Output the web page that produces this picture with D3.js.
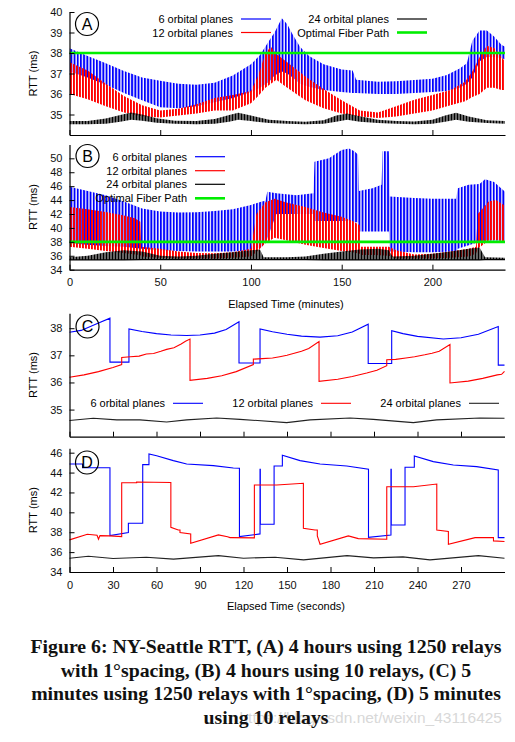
<!DOCTYPE html>
<html><head><meta charset="utf-8">
<script src="https://cdn.jsdelivr.net/npm/d3@7"></script>
<style>body{margin:0;background:#fff}svg{display:block}</style>
</head><body>
<script>
// ---------- DATA ----------
// Panel A (4 h, 1250 relays) : envelopes of oscillating RTT (ms)
const a6T  = [0,10,20,30,40,50,60,70,80,90,100,105,110,113,117,120,123,127,132,140,150,156,158,170,180,190,200,208,215,219,222,226,230,234,238,240];
const a6Hi = [38.23,37.85,37.5,37.12,36.8,36.65,36.5,36.45,36.55,36.9,37.45,37.9,38.6,39.0,39.7,39.4,38.9,38.3,37.85,37.45,37.2,37.15,36.7,36.6,36.62,36.68,36.75,36.93,37.25,37.5,38.6,39.1,39.1,38.8,38.4,38.3];
const a6Lo = [37.1,36.8,36.45,36.05,35.7,35.35,35.3,35.4,35.6,35.8,36.1,36.3,36.6,36.9,37.1,37.0,36.8,36.5,36.35,36.2,36.1,36.05,36.05,36.0,36.0,36.05,36.1,36.15,36.3,36.5,36.8,37.6,37.8,37.8,37.75,37.7];
const a12T  = [0,10,20,30,40,50,60,70,80,90,100,104,108,111,114,120,130,140,150,160,170,180,190,200,210,218,222,226,230,234,238,240];
const a12Hi = [37.55,37.15,36.5,35.9,35.45,35.2,35.28,35.5,35.8,35.95,36.15,36.9,38.0,38.3,37.95,37.55,36.85,36.25,35.7,35.2,35.1,35.4,35.72,35.95,36.2,36.6,37.1,37.8,38.35,38.25,37.8,37.6];
const a12Lo = [36.0,35.75,35.4,35.1,34.92,34.85,34.95,35.05,35.2,35.2,35.55,35.9,36.3,36.5,36.7,36.3,35.7,35.3,35.05,34.9,34.83,34.9,35.05,35.2,35.45,35.65,35.85,36.0,36.3,36.3,36.2,36.2];
const a24T  = [0,10,20,28,34,40,48,58,70,80,88,93,100,110,120,130,140,147,153,160,170,180,190,200,207,213,220,230,240];
const a24Hi = [34.68,34.68,34.8,34.98,35.1,35.0,34.82,34.7,34.68,34.78,34.98,35.08,34.95,34.75,34.68,34.65,34.72,34.95,35.05,34.92,34.75,34.68,34.66,34.75,34.95,35.08,34.9,34.72,34.68];
const a24Lo = [34.52,34.52,34.55,34.65,34.75,34.7,34.6,34.55,34.52,34.55,34.65,34.75,34.68,34.58,34.55,34.52,34.55,34.65,34.75,34.65,34.58,34.55,34.52,34.55,34.65,34.75,34.65,34.58,34.55];
const fiberRTT = 38;

// Panel B (4 h, 10 relays)
const b6T  = [0,10,20,30,40,50,60,70,80,90,100,106,108,109,114,125,134.5,135,143,150,154,157,159,159.5,167,172,172.5,176,176.5,190,200,213,214,220,226,229,234,240];
const b6Hi = [45.9,45.3,44.7,43.8,42.8,42.35,42.2,42.25,42.45,42.7,43.3,43.8,43.9,45.2,45.0,44.7,45.0,49.5,50.0,51.2,51.4,51.0,50.5,45.3,45.7,46.2,51.0,51.0,44.5,44.3,44.2,44.2,45.7,46.2,46.3,47.0,46.6,45.2];
const b6Lo = [37.8,37.6,37.4,37.3,37.0,36.8,36.7,36.6,36.6,36.6,36.8,37.3,38.0,38.5,42.0,42.0,42.0,41.0,41.0,41.0,41.0,40.8,40.8,39.5,39.5,39.5,39.5,39.5,36.6,36.5,36.5,36.6,37.0,37.5,38.0,38.2,38.2,38.2];
const b12T  = [0,10,20,30,36,39,39.5,50,60,70,80,90,100,103,108,113,120,130,140,150,156,160,160.5,168,176,180,190,200,210,220,224,225,231,235,240];
const b12Hi = [43.0,42.7,42.3,41.8,41.4,40.9,37.3,37.0,36.6,36.4,36.35,36.5,37.0,42.0,43.7,44.2,43.6,43.0,42.2,41.6,41.0,40.4,37.3,37.3,37.3,36.8,36.2,36.3,36.6,37.0,37.3,42.0,43.8,44.0,43.2];
const b12Lo = [37.3,37.0,36.7,36.4,36.2,36.1,35.9,35.7,35.6,35.6,35.6,35.7,35.9,36.5,37.8,38.6,38.2,37.6,37.1,36.7,36.5,36.3,36.1,36.1,36.0,35.6,35.6,35.6,35.7,35.9,36.3,37.0,38.2,38.3,38.0];
const b24T  = [0,10,20,30,40,50,60,70,80,90,100,105,107,120,130,140,150,160,170,176,178,190,200,210,220,226,229,240];
const b24Hi = [35.8,36.0,36.5,36.8,36.6,36.0,35.9,36.0,36.3,36.5,36.8,36.9,35.8,35.8,35.9,36.3,36.6,36.9,37.0,36.8,35.9,36.0,36.3,36.6,37.0,37.2,35.8,35.7];
const b24Lo = [35.4,35.4,35.4,35.4,35.45,35.45,35.45,35.45,35.45,35.45,35.45,35.45,35.45,35.45,35.45,35.4,35.4,35.4,35.4,35.4,35.4,35.4,35.4,35.4,35.4,35.4,35.45,35.45];

// Panel C (5 min, 1250 relays)
const c6T = [0,8,18,27.9,27.9,41,41,50,60,70,80.8,90,100,108,116.9,116.9,131.4,131.4,140,150,160,172.8,185,195,206,206,222.2,222.2,230,240,257.8,270,282,295.7,295.7,300];
const c6V = [37.85,37.92,38.15,38.37,36.75,36.75,37.97,37.88,37.8,37.75,37.73,37.75,37.82,37.95,38.24,36.72,36.72,37.97,37.87,37.78,37.71,37.67,37.72,37.86,38.15,36.7,36.7,37.91,37.8,37.7,37.6,37.65,37.78,38.06,36.64,36.64];
const c12T = [0,10,20,30,36,36,42,48,53,58,63,67,72,77,80,83.1,83.1,95,105,115,126.8,126.8,133,140,145,150,155,160,165,172.1,172.1,185,195,205,212,218.8,218.8,225,232,238,245,250,255,262.4,262.4,275,285,295,298,300];
const c12V = [36.19,36.28,36.4,36.55,36.66,36.92,36.95,36.97,37.05,37.07,37.15,37.22,37.28,37.42,37.52,37.6,36.08,36.15,36.25,36.4,36.66,36.86,36.88,36.9,36.95,37.0,37.08,37.15,37.25,37.51,36.04,36.12,36.22,36.35,36.45,36.62,36.84,36.85,36.9,36.95,37.02,37.08,37.15,37.4,35.98,36.05,36.15,36.28,36.3,36.41];
const c24T = [0,16.4,32.6,48.6,67,80.8,101.5,117.6,149.8,165.9,193.5,209.5,237.1,253.2,283,300];
const c24V = [34.6,34.68,34.62,34.62,34.54,34.62,34.69,34.64,34.52,34.62,34.69,34.64,34.52,34.62,34.69,34.68];

// Panel D (5 min, 10 relays)
const d6T = [0,9,9,27.9,27.9,40.6,40.6,50.5,50.5,54.8,54.8,60.1,71.6,80.8,99.2,113,117.2,117.2,131.4,131.4,131.6,131.6,141.1,141.1,146.8,146.8,159,172.8,191.2,206.2,206.2,221.7,221.7,221.9,221.9,231.4,231.4,237.8,237.8,250.9,264.7,280.8,295.7,295.7,300];
const d6V = [44.86,44.86,44.5,44.49,37.66,37.96,38.9,38.9,44.8,44.8,45.87,45.7,45.2,44.86,44.7,44.46,44.43,37.56,37.83,44.33,44.33,38.8,38.8,44.66,44.66,45.74,45.2,44.86,44.66,44.33,37.49,37.72,44.33,44.33,38.73,38.73,44.53,44.53,45.67,45.1,44.76,44.6,44.26,37.46,37.46];
const d12T = [0,12.3,19,20,21,27.9,36,36,46.3,46.3,69.9,69.9,75,76.2,76.2,83.6,83.6,102.7,109,110.7,111.5,127.5,127.5,142.9,161.3,161.3,169.3,170.9,170.9,172.8,192.3,199.2,218.8,218.8,237.2,253.3,253.3,261.3,261.3,279.7,292.4,292.4,300];
const d12V = [37.23,37.8,37.7,37.3,37.66,37.63,37.56,42.98,42.98,43.05,43.0,38.5,38.23,38.23,37.96,37.83,36.89,37.73,37.55,37.46,37.46,37.43,42.75,42.75,42.92,38.4,38.23,38.23,37.63,36.79,37.63,37.36,37.3,42.58,42.58,42.85,38.23,38.07,36.79,37.46,37.46,37.13,37.06];
const d24T = [0,13,30,53,71.7,102.7,120,141.8,161.4,191.4,209.7,230,248.6,282,300];
const d24V = [35.39,35.59,35.36,35.49,35.29,35.65,35.39,35.49,35.22,35.65,35.42,35.52,35.22,35.65,35.39];

const legendLabels = ["6 orbital planes","12 orbital planes","24 orbital planes","Optimal Fiber Path"];
const colors = {p6:"#0000ff", p12:"#ff0000", p24:"#000000", fiber:"#00ee00"};
const ticksA = [35,36,37,38,39,40], ticksB = [34,36,38,40,42,44,46,48,50];
const ticksC = [35,36,37,38], ticksD = [34,36,38,40,42,44,46];
const ticksMin = [0,50,100,150,200], ticksSec = [0,30,60,90,120,150,180,210,240,270];
const captionLines = [
 "Figure 6: NY-Seattle RTT, (A) 4 hours using 1250 relays",
 "with 1°spacing, (B) 4 hours using 10 relays, (C) 5",
 "minutes using 1250 relays with 1°spacing, (D) 5 minutes",
 "using 10 relays"];

// ---------- DRAW ----------
const svg = d3.select("body").append("svg").attr("width",515).attr("height",742);
const FONT = "'Liberation Sans', Arial, Helvetica, sans-serif";
const defs = svg.append("defs");
function stripe(id, color, w, period, off){
  const p = defs.append("pattern").attr("id",id).attr("patternUnits","userSpaceOnUse")
    .attr("width",period).attr("height",8).attr("x",off);
  p.append("rect").attr("width",w).attr("height",8).attr("fill",color);
}
stripe("s6", colors.p6, 1.9, 3.2, 0);
stripe("s12", colors.p12, 1.9, 3.0, 1);
stripe("s24", colors.p24, 2.2, 3.0, 0.5);

const X0 = 69.5;
const xMin = d3.scaleLinear().domain([0,240]).range([X0,505]);
const xSec = d3.scaleLinear().domain([0,300]).range([X0,504.5]);
const yA = d3.scaleLinear().domain([34,40]).range([135,12]);
const yB = d3.scaleLinear().domain([34,52]).range([269.7,144.4]);
const yC = d3.scaleLinear().domain([34,38.55]).range([436.7,313.3]);
const yD = d3.scaleLinear().domain([34,46.44]).range([572,448.3]);

function band(x,y,T,HI,LO,pat){
  const data = T.map((t,i)=>({t,hi:HI[i],lo:LO[i]}));
  svg.append("path").datum(data)
    .attr("d", d3.area().x(d=>x(d.t)).y0(d=>y(d.lo)).y1(d=>y(d.hi)))
    .attr("fill", `url(#${pat})`);
}
function lowerEdge(x,y,T,LO,color){
  const data = T.map((t,i)=>({t,v:LO[i]}));
  svg.append("path").datum(data)
    .attr("d", d3.line().x(d=>x(d.t)).y(d=>y(d.v)))
    .attr("fill","none").attr("stroke",color).attr("stroke-width",1.2);
}
function line(x,y,T,V,color,w){
  const data = T.map((t,i)=>({t,v:V[i]}));
  svg.append("path").datum(data)
    .attr("d", d3.line().x(d=>x(d.t)).y(d=>y(d.v)))
    .attr("fill","none").attr("stroke",color).attr("stroke-width",w).attr("stroke-linejoin","miter");
}
function fiber(x,y){
  svg.append("line").attr("x1",x.range()[0]).attr("x2",x.range()[1])
    .attr("y1",y(fiberRTT)).attr("y2",y(fiberRTT))
    .attr("stroke",colors.fiber).attr("stroke-width",2.6);
}
function axes(x,y,yt,xt,xlabels,xtitle){
  const gy = svg.append("g").attr("transform",`translate(${X0},0)`)
    .call(d3.axisLeft(y).tickValues(yt).tickSizeInner(-5).tickSizeOuter(0).tickPadding(7).tickFormat(d3.format("d")));
  gy.select(".domain").attr("stroke-width",1.2);
  const yb = y.range()[0];
  const gx = svg.append("g").attr("transform",`translate(0,${yb})`)
    .call(d3.axisBottom(x).tickValues(xt).tickSizeInner(-5).tickSizeOuter(0).tickPadding(9)
      .tickFormat(xlabels ? d3.format("d") : ()=>""));
  gx.select(".domain").attr("stroke-width",1.2);
  svg.selectAll(".tick text").attr("font-family",FONT).attr("font-size",11).attr("fill","#111");
  const yr = y.range();
  svg.append("text").attr("transform",`translate(37,${(yr[0]+yr[1])/2}) rotate(-90)`)
    .attr("text-anchor","middle").attr("font-family",FONT).attr("font-size",11).text("RTT (ms)");
  if (xtitle) svg.append("text").attr("x",286).attr("y",yb+38).attr("text-anchor","middle")
    .attr("font-family",FONT).attr("font-size",11).text(xtitle);
}
function badge(cx,cy,letter){
  svg.append("circle").attr("cx",cx).attr("cy",cy).attr("r",11.5).attr("fill","none").attr("stroke","#000").attr("stroke-width",1.2);
  svg.append("text").attr("x",cx).attr("y",cy+5.5).attr("text-anchor","middle").attr("font-family",FONT).attr("font-size",16).text(letter);
}
function legendItem(xr,yLine,label,color,w,len){
  svg.append("text").attr("x",xr).attr("y",yLine+4).attr("text-anchor","end").attr("font-family",FONT).attr("font-size",11).text(label);
  svg.append("line").attr("x1",xr+8).attr("x2",xr+8+len).attr("y1",yLine).attr("y2",yLine).attr("stroke",color).attr("stroke-width",w);
}

// Panel A
band(xMin,yA,a6T,a6Hi,a6Lo,"s6");
band(xMin,yA,a12T,a12Hi,a12Lo,"s12");
band(xMin,yA,a24T,a24Hi,a24Lo,"s24");
fiber(xMin,yA);
axes(xMin,yA,ticksA,ticksMin,false,null);
legendItem(233,19,legendLabels[0],colors.p6,1.2,30);
legendItem(233,32.5,legendLabels[1],colors.p12,1.2,30);
legendItem(389,19,legendLabels[2],colors.p24,1.2,30);
legendItem(389,32.5,legendLabels[3],colors.fiber,2.6,30);
badge(87,24,"A");

// Panel B
band(xMin,yB,b6T,b6Hi,b6Lo,"s6");
band(xMin,yB,b12T,b12Hi,b12Lo,"s12");
band(xMin,yB,b24T,b24Hi,b24Lo,"s24");
lowerEdge(xMin,yB,b24T,b24Lo,"#000");
fiber(xMin,yB);
axes(xMin,yB,ticksB,ticksMin,true,"Elapsed Time (minutes)");
legendItem(187,156.7,legendLabels[0],colors.p6,1.2,30);
legendItem(187,170.7,legendLabels[1],colors.p12,1.2,30);
legendItem(187,184.3,legendLabels[2],colors.p24,1.2,30);
legendItem(187,198.3,legendLabels[3],colors.fiber,2.6,30);
badge(87.5,156,"B");

// Panel C
line(xSec,yC,c6T,c6V,colors.p6,1.1);
line(xSec,yC,c12T,c12V,colors.p12,1.1);
line(xSec,yC,c24T,c24V,"#222",1.1);
axes(xSec,yC,ticksC,ticksSec,false,null);
legendItem(165,403.3,legendLabels[0],colors.p6,1.1,30);
legendItem(313,403.3,legendLabels[1],colors.p12,1.1,30);
legendItem(461,403.3,legendLabels[2],"#222",1.1,30);
badge(87.5,326.5,"C");

// Panel D
line(xSec,yD,d6T,d6V,colors.p6,1.1);
line(xSec,yD,d12T,d12V,colors.p12,1.1);
line(xSec,yD,d24T,d24V,"#222",1.1);
axes(xSec,yD,ticksD,ticksSec,true,"Elapsed Time (seconds)");
badge(87,462.5,"D");

// Caption
svg.append("text").attr("x",502).attr("y",723).attr("text-anchor","end")
  .attr("font-family",FONT).attr("font-size",15.5).attr("fill","#d8d8d8")
  .text("https://blog.csdn.net/weixin_43116425");
captionLines.forEach((s,i)=>{
  svg.append("text").attr("x",266).attr("y",653+i*23.6).attr("text-anchor","middle")
    .attr("font-family","'Liberation Serif','Times New Roman',serif").attr("font-weight","bold")
    .attr("font-size",19.8).attr("fill","#111").text(s);
});
</script>
</body></html>
